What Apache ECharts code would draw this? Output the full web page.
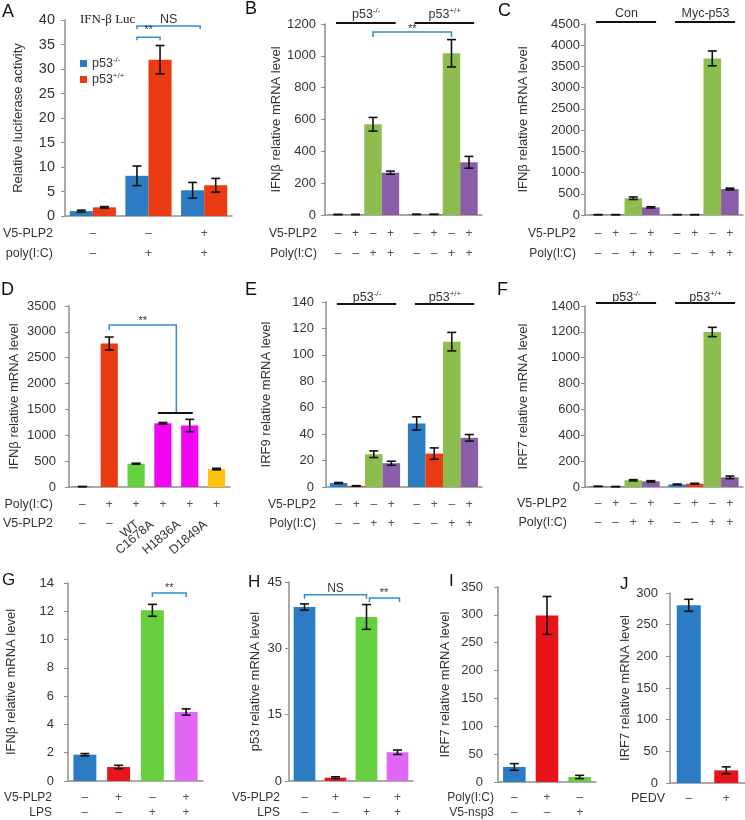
<!DOCTYPE html>
<html>
<head>
<meta charset="utf-8">
<title>PLP2 / p53 figure</title>
<script src="https://cdn.jsdelivr.net/npm/echarts@6/dist/echarts.min.js"></script>
<style>html,body{margin:0;padding:0;background:#fff}#c{width:745px;height:820px}</style>
</head>
<body>
<div id="c"></div>
<script>
// ================= DATA =================
// Panel A
const aCategories = ['ctrl', 'poly', 'plp2+poly'];
const aKnockout = [1.0, 8.2, 5.25];
const aKnockoutErr = [0.2, 2.0, 1.6];
const aWildtype = [1.77, 31.9, 6.27];
const aWildtypeErr = [0.15, 2.9, 1.4];
const aRowV5 = ['–', '–', '+'];
const aRowPoly = ['–', '+', '+'];
const aYTicks = [0, 5, 10, 15, 20, 25, 30, 35, 40];

// shared sign rows for 2 groups x 4 conditions
const quadRowV5 = ['–', '+', '–', '+', '–', '+', '–', '+'];
const quadRowPoly = ['–', '–', '+', '+', '–', '–', '+', '+'];

// Panel B
const bCategories = ['p53-/-', 'p53+/+'];
const bControl = [3, 4];
const bControlErr = [0.5, 0.5];
const bPLP2 = [3, 4];
const bPLP2Err = [0.5, 0.5];
const bPoly = [570, 1016];
const bPolyErr = [43, 86];
const bBoth = [266, 331];
const bBothErr = [10, 37];
const bYTicks = [0, 200, 400, 600, 800, 1000, 1200];

// Panel C
const cCategories = ['Con', 'Myc-p53'];
const cControl = [8, 8];
const cControlErr = [1, 1];
const cPLP2 = [8, 8];
const cPLP2Err = [1, 1];
const cPoly = [395, 3690];
const cPolyErr = [30, 175];
const cBoth = [180, 612];
const cBothErr = [15, 20];
const cYTicks = [0, 500, 1000, 1500, 2000, 2500, 3000, 3500, 4000, 4500];

// Panel D
const dCategories = ['mock', 'poly', 'WT', 'C1678A', 'H1836A', 'D1849A'];
const dValues = [8, 2775, 450, 1233, 1188, 347];
const dErr = [2, 125, 10, 15, 120, 15];
const dRowPoly = ['–', '+', '+', '+', '+', '+'];
const dRowV5 = ['–', '–', 'WT', 'C1678A', 'H1836A', 'D1849A'];
const dYTicks = [0, 500, 1000, 1500, 2000, 2500, 3000, 3500];

// Panel E
const eCategories = ['p53-/-', 'p53+/+'];
const eControl = [3.0, 48.1];
const eControlErr = [0.4, 5];
const ePLP2 = [0.8, 25.3];
const ePLP2Err = [0.2, 4.3];
const ePoly = [24.8, 110];
const ePolyErr = [2.5, 7];
const eBoth = [18, 37.2];
const eBothErr = [1.5, 2.5];
const eYTicks = [0, 20, 40, 60, 80, 100, 120, 140];

// Panel F
const fCategories = ['p53-/-', 'p53+/+'];
const fControl = [5, 20];
const fControlErr = [1, 3];
const fPLP2 = [3, 26];
const fPLP2Err = [1, 3];
const fPoly = [52, 1199];
const fPolyErr = [5, 36];
const fBoth = [44, 75];
const fBothErr = [5, 10];
const fYTicks = [0, 200, 400, 600, 800, 1000, 1200, 1400];

// Panel G
const gCategories = ['mock', 'PLP2', 'LPS', 'PLP2+LPS'];
const gValues = [1.86, 0.99, 12.07, 4.88];
const gErr = [0.08, 0.12, 0.42, 0.22];
const gRowV5 = ['–', '+', '–', '+'];
const gRowLPS = ['–', '–', '+', '+'];
const gYTicks = [0, 2, 4, 6, 8, 10, 12, 14];

// Panel H
const hCategories = ['mock', 'PLP2', 'LPS', 'PLP2+LPS'];
const hValues = [39.35, 0.75, 37.1, 6.5];
const hErr = [0.7, 0.2, 2.8, 0.5];
const hRowV5 = ['–', '+', '–', '+'];
const hRowLPS = ['–', '–', '+', '+'];
const hYTicks = [0, 15, 30, 45];

// Panel I
const iCategories = ['mock', 'poly', 'nsp3'];
const iValues = [27, 299, 9];
const iErr = [6, 34, 3];
const iRowPoly = ['–', '+', '–'];
const iRowNsp3 = ['–', '–', '+'];
const iYTicks = [0, 50, 100, 150, 200, 250, 300, 350];

// Panel J
const jCategories = ['mock', 'PEDV'];
const jValues = [280.6, 20];
const jErr = [9.5, 5.5];
const jRowPEDV = ['–', '+'];
const jYTicks = [0, 50, 100, 150, 200, 250, 300];

// ================= STYLE =================
const FONT = "'Liberation Sans', Arial, Helvetica, sans-serif";
const SERIF = "'Liberation Serif', 'Times New Roman', serif";
const COL = {
  blue: '#2B7CC2', orange: '#EB3B12', olive: '#8CBD4E', purple: '#8A5DA6',
  red: '#E9141A', lime: '#66CF3D', violet: '#E266F6', magenta: '#F205F2',
  gold: '#FFC20F', bracket: '#2D8ED2', axis: '#8E8E8E', text: '#333333', sign: '#555555'
};
const quadColors = [COL.blue, COL.orange, COL.olive, COL.purple];

function quad(c, e, ce, p, pe, q, qe, b, be) {
  return [
    { name: c + '0', data: e, err: ce, color: quadColors[0] },
    { name: c + '1', data: p, err: pe, color: quadColors[1] },
    { name: c + '2', data: q, err: qe, color: quadColors[2] },
    { name: c + '3', data: b, err: be, color: quadColors[3] }
  ];
}

const panels = [
  { id: 'A', rect: [65, 20, 167, 196], ticks: aYTicks, tickFont: 14.5, labelMargin: 10,
    yName: 'Relative luciferase activity', nameGap: 40, gap: 0.17, cats: aCategories,
    series: [
      { name: 'p53-/-', data: aKnockout, err: aKnockoutErr, color: COL.blue },
      { name: 'p53+/+', data: aWildtype, err: aWildtypeErr, color: COL.orange }
    ],
    rows: [['V5-PLP2', aRowV5], ['poly(I:C)', aRowPoly]], rowDy: [18, 38], rowGap: 12, rowFont: 12.5, signsPer: 'cat' },
  { id: 'B', rect: [325, 24, 157, 191], ticks: bYTicks, tickFont: 13, labelMargin: 9,
    yName: 'IFNβ relative mRNA level', nameGap: 41, gap: 0.11, cats: bCategories,
    series: quad('b', bControl, bControlErr, bPLP2, bPLP2Err, bPoly, bPolyErr, bBoth, bBothErr),
    rows: [['V5-PLP2', quadRowV5], ['Poly(I:C)', quadRowPoly]], rowDy: [19, 39], rowGap: 8, rowFont: 12, signsPer: 'bar',
    groups: { line: -1, text: -9 } },
  { id: 'C', rect: [585, 24, 158, 191], ticks: cYTicks, tickFont: 13, labelMargin: 5,
    yName: 'IFNβ relative mRNA level', nameGap: 55, gap: 0.11, cats: cCategories,
    series: quad('c', cControl, cControlErr, cPLP2, cPLP2Err, cPoly, cPolyErr, cBoth, cBothErr),
    rows: [['V5-PLP2', quadRowV5], ['Poly(I:C)', quadRowPoly]], rowDy: [19, 39], rowGap: 9, rowFont: 12, signsPer: 'bar',
    groups: { line: -2, text: -10 } },
  { id: 'D', rect: [69, 306, 161, 181], ticks: dYTicks, tickFont: 13, labelMargin: 13,
    yName: 'IFNβ relative mRNA level', nameGap: 48, gap: 0.36, cats: dCategories,
    series: [{ name: 'd0', data: dValues, err: dErr, colors: [COL.blue, COL.orange, COL.lime, COL.magenta, COL.magenta, COL.gold] }],
    rows: [['Poly(I:C)', dRowPoly], ['V5-PLP2', dRowV5]], rowDy: [18, 37], rowGap: 16, rowFont: 12.5, signsPer: 'bar' },
  { id: 'E', rect: [326, 302, 156, 185], ticks: eYTicks, tickFont: 13, labelMargin: 12,
    yName: 'IRF9 relative mRNA level', nameGap: 53, gap: 0.1, cats: eCategories,
    series: quad('e', eControl, eControlErr, ePLP2, ePLP2Err, ePoly, ePolyErr, eBoth, eBothErr),
    rows: [['V5-PLP2', quadRowV5], ['Poly(I:C)', quadRowPoly]], rowDy: [18, 37], rowGap: 10, rowFont: 12, signsPer: 'bar',
    groups: { line: 2, text: -4 } },
  { id: 'F', rect: [585, 306, 158, 181], ticks: fYTicks, tickFont: 13, labelMargin: 5,
    yName: 'IRF7 relative mRNA level', nameGap: 55, gap: 0.11, cats: fCategories,
    series: quad('f', fControl, fControlErr, fPLP2, fPLP2Err, fPoly, fPolyErr, fBoth, fBothErr),
    rows: [['V5-PLP2', quadRowV5], ['Poly(I:C)', quadRowPoly]], rowDy: [17, 36], rowGap: 18, rowFont: 12.5, signsPer: 'bar',
    groups: { line: -3, text: -8 } },
  { id: 'G', rect: [68, 583, 135, 198], ticks: gYTicks, tickFont: 13, labelMargin: 14,
    yName: 'IFNβ relative mRNA level', nameGap: 50, gap: 0.32, cats: gCategories,
    series: [{ name: 'g0', data: gValues, err: gErr, colors: [COL.blue, COL.red, COL.lime, COL.violet] }],
    rows: [['V5-PLP2', gRowV5], ['LPS', gRowLPS]], rowDy: [17, 32], rowGap: 16, rowFont: 12, signsPer: 'bar' },
  { id: 'H', rect: [289, 582, 124, 199], ticks: hYTicks, tickFont: 13, labelMargin: 7,
    yName: 'p53 relative mRNA level', nameGap: 27, gap: 0.3, cats: hCategories,
    series: [{ name: 'h0', data: hValues, err: hErr, colors: [COL.blue, COL.red, COL.lime, COL.violet] }],
    rows: [['V5-PLP2', hRowV5], ['LPS', hRowLPS]], rowDy: [17, 32], rowGap: 9, rowFont: 12, signsPer: 'bar' },
  { id: 'I', rect: [498, 587, 98, 195], ticks: iYTicks, tickFont: 13, labelMargin: 15,
    yName: 'IRF7 relative mRNA level', nameGap: 46, gap: 0.31, cats: iCategories,
    series: [{ name: 'i0', data: iValues, err: iErr, colors: [COL.blue, COL.red, COL.lime] }],
    rows: [['Poly(I:C)', iRowPoly], ['V5-nsp3', iRowNsp3]], rowDy: [16, 31], rowGap: 4, rowFont: 12, signsPer: 'bar' },
  { id: 'J', rect: [670, 593, 75, 190], ticks: jYTicks, tickFont: 13, labelMargin: 12,
    yName: 'IRF7 relative mRNA level', nameGap: 38, gap: 0.36, cats: jCategories,
    series: [{ name: 'j0', data: jValues, err: jErr, colors: [COL.blue, COL.red] }],
    rows: [['PEDV', jRowPEDV]], rowDy: [16], rowGap: 5, rowFont: 12.5, signsPer: 'bar' }
];

// ================= CHART =================
const chart = echarts.init(document.getElementById('c'), null, { renderer: 'canvas', width: 745, height: 820 });

function errRender(n, k, gap) {
  return function (params, api) {
    const i = api.value(0), v = api.value(1), e = api.value(2);
    const bandW = api.size([1, 0])[0];
    const bw = bandW * (1 - gap) / n;
    const off = (k - (n - 1) / 2) * bw;
    const p1 = api.coord([i, v + e]);
    const p2 = api.coord([i, Math.max(v - e, 0)]);
    const x = p1[0] + off, c = 4.5;
    const st = { stroke: '#111', lineWidth: 1.6 };
    return { type: 'group', children: [
      { type: 'line', shape: { x1: x, y1: p1[1], x2: x, y2: p2[1] }, style: st },
      { type: 'line', shape: { x1: x - c, y1: p1[1], x2: x + c, y2: p1[1] }, style: st },
      { type: 'line', shape: { x1: x - c, y1: p2[1], x2: x + c, y2: p2[1] }, style: st }
    ] };
  };
}

const grids = [], xAxes = [], yAxes = [], series = [];
panels.forEach((p, gi) => {
  p.gi = gi;
  grids.push({ left: p.rect[0], top: p.rect[1], width: p.rect[2], height: p.rect[3], containLabel: false });
  xAxes.push({ type: 'category', gridIndex: gi, data: p.cats,
    axisLine: { lineStyle: { color: COL.axis, width: 1.5 } }, axisTick: { show: false }, axisLabel: { show: false } });
  yAxes.push({ type: 'value', gridIndex: gi, min: p.ticks[0], max: p.ticks[p.ticks.length - 1], interval: p.ticks[1] - p.ticks[0],
    splitLine: { show: false },
    axisLine: { show: true, lineStyle: { color: COL.axis, width: 1.5 } },
    axisTick: { show: true, length: 4, lineStyle: { color: COL.axis, width: 1 } },
    axisLabel: { fontSize: p.tickFont, color: COL.text, margin: p.labelMargin, fontFamily: FONT, formatter: v => String(v) },
    name: p.yName, nameLocation: 'middle', nameGap: p.nameGap, nameRotate: 90,
    nameTextStyle: { fontSize: 13, color: COL.text, fontFamily: FONT } });
  const n = p.series.length;
  p.series.forEach((s, k) => {
    series.push({ type: 'bar', name: s.name, xAxisIndex: gi, yAxisIndex: gi,
      data: s.colors ? s.data.map((v, i) => ({ value: v, itemStyle: { color: s.colors[i] } })) : s.data,
      itemStyle: { color: s.color || COL.blue }, barGap: '0%', barCategoryGap: (p.gap * 100) + '%',
      silent: true, animation: false });
    series.push({ type: 'custom', name: 'err-' + s.name, xAxisIndex: gi, yAxisIndex: gi,
      data: s.data.map((v, i) => [i, v, s.err[i]]), encode: { x: 0, y: 1 },
      renderItem: errRender(n, k, p.gap), z: 5, silent: true, animation: false });
  });
});

chart.setOption({
  backgroundColor: '#ffffff',
  animation: false,
  textStyle: { fontFamily: FONT },
  grid: grids, xAxis: xAxes, yAxis: yAxes, series: series,
  legend: { show: true, data: ['p53-/-', 'p53+/+'], orient: 'vertical', left: 75, top: 51,
    itemWidth: 7, itemHeight: 7, itemGap: 2, icon: 'rect', selectedMode: false,
    formatter: nm => '{b|p53}{s|' + nm.slice(3) + '}',
    textStyle: { rich: {
      b: { fontSize: 12.5, fontFamily: FONT, color: COL.text, lineHeight: 15 },
      s: { fontSize: 8, fontFamily: FONT, color: COL.text, verticalAlign: 'top', lineHeight: 9 }
    } } }
});

// ================= ANNOTATIONS (positions derived from the axes) =================
const G = [];
function txt(x, y, text, o) {
  o = o || {};
  const st = { text: text, font: (o.size || 12) + 'px ' + (o.family || FONT), fill: o.color || COL.text,
    align: o.align || 'center', verticalAlign: o.va || 'middle', textAlign: o.align || 'center', textVerticalAlign: o.va || 'middle' };
  if (o.rich) st.rich = o.rich;
  G.push({ type: 'text', x: x, y: y, rotation: o.rot || 0, silent: true, z: 100, style: st });
}
function seg(x1, y1, x2, y2, color, w) {
  G.push({ type: 'line', silent: true, z: 100, shape: { x1: x1, y1: y1, x2: x2, y2: y2 }, style: { stroke: color, lineWidth: w || 1.5 } });
}
function bracket(x1, x2, y, d1, d2, color) {
  G.push({ type: 'polyline', silent: true, z: 100, shape: { points: [[x1, y + d1], [x1, y], [x2, y], [x2, y + d2]] },
    style: { stroke: color || COL.bracket, lineWidth: 1.5, fill: null } });
}
const supRich = (size) => ({
  b: { fontSize: size, fontFamily: FONT, fill: COL.text, color: COL.text, lineHeight: size + 3 },
  s: { fontSize: 8, fontFamily: FONT, fill: COL.text, color: COL.text, verticalAlign: 'top', lineHeight: 9 }
});

const P = {};
panels.forEach(p => {
  const gi = p.gi, n = p.series.length, nc = p.cats.length;
  const bandW = p.rect[2] / nc;
  const bw = bandW * (1 - p.gap) / n;
  const cx = i => chart.convertToPixel({ gridIndex: gi }, [i, 0])[0];
  const vy = v => chart.convertToPixel({ gridIndex: gi }, [0, v])[1];
  const bx = (i, k) => cx(i) + (k - (n - 1) / 2) * bw;
  P[p.id] = { cx, vy, bx, bandW, p };
  const bottom = p.rect[1] + p.rect[3];
  const xs = [];
  if (p.signsPer === 'cat') { for (let i = 0; i < nc; i++) xs.push(cx(i)); }
  else { for (let i = 0; i < nc; i++) for (let k = 0; k < n; k++) xs.push(bx(i, k)); }
  p.rows.forEach((row, r) => {
    const y = bottom + p.rowDy[r];
    txt(p.rect[0] - p.rowGap, y, row[0], { align: 'right', size: p.rowFont });
    row[1].forEach((s, j) => {
      if (s.length > 1) {
        txt(xs[j] + (s === 'WT' ? -3 : -15), y - 6, s, { align: 'right', va: 'top', size: 12.5, rot: 40 * Math.PI / 180 });
      } else {
        txt(xs[j], y, s, { size: 12, color: COL.sign });
      }
    });
  });
  if (p.groups) {
    for (let i = 0; i < nc; i++) {
      const c = cx(i);
      seg(c - 0.36 * bandW, p.rect[1] + p.groups.line, c + 0.40 * bandW, p.rect[1] + p.groups.line, '#111', 1.8);
      const nm = p.cats[i];
      const m = nm.match(/^p53(.*)$/);
      const label = m ? '{b|p53}{s|' + m[1] + '}' : '{b|' + nm + '}';
      txt(c + 2, p.rect[1] + p.groups.text, label, { rich: supRich(12.5) });
    }
  }
});

// Panel A annotations
(function () {
  const a = P.A;
  txt(80, 20, 'IFN-β Luc', { align: 'left', size: 13, family: SERIF, color: '#222' });
  const yNS = a.vy(38.8);
  bracket(a.bx(1, 0), a.cx(2) - 4, yNS, 3, 3);
  txt((a.bx(1, 0) + a.cx(2) - 4) / 2, yNS - 6, 'NS', { size: 12.5 });
  const ySS = a.vy(36.5);
  bracket(a.bx(1, 0), a.bx(1, 1), ySS, 3, 3);
  txt((a.bx(1, 0) + a.bx(1, 1)) / 2, ySS - 2, '**', { size: 11, va: 'bottom' });
})();
// Panel B
(function () {
  const b = P.B;
  const y = b.vy(1150);
  bracket(b.bx(0, 2), b.bx(1, 2), y, 5, 5);
  txt((b.bx(0, 2) + b.bx(1, 2)) / 2, y + 3, '**', { size: 11, va: 'bottom' });
})();
// Panel D
(function () {
  const d = P.D;
  const y1 = d.vy(3133), y2 = d.vy(1431);
  const xm = (d.cx(3) + d.cx(4)) / 2;
  G.push({ type: 'polyline', silent: true, z: 100,
    shape: { points: [[d.cx(1), y1 + 5], [d.cx(1), y1], [xm, y1], [xm, y2]] },
    style: { stroke: COL.bracket, lineWidth: 1.5, fill: null } });
  seg(d.cx(3) - 5, y2, d.cx(4) + 3, y2, '#111', 1.8);
  txt((d.cx(1) + xm) / 2, y1 + 1, '**', { size: 11, va: 'bottom' });
})();
// Panel G
(function () {
  const g = P.G;
  const y = g.vy(13.3);
  bracket(g.cx(2), g.cx(3), y, 4, 4);
  txt((g.cx(2) + g.cx(3)) / 2, y + 1, '**', { size: 11, va: 'bottom' });
})();
// Panel H
(function () {
  const h = P.H;
  const y1 = h.vy(42.1);
  bracket(h.cx(0), h.cx(2), y1, 4, 4);
  txt((h.cx(0) + h.cx(2)) / 2, y1 - 6, 'NS', { size: 12 });
  const y2 = h.vy(41.4);
  bracket(h.cx(2) + 3, h.cx(3) + 2, y2, 4, 4);
  txt((h.cx(2) + h.cx(3)) / 2 + 2, y2 + 1, '**', { size: 11, va: 'bottom' });
})();

// panel letters
[['A', 2, 12, 18], ['B', 245, 9, 18], ['C', 498, 11, 18],
 ['D', 1, 290, 18], ['E', 245, 290, 18], ['F', 497, 290, 18],
 ['G', 2, 580, 17], ['H', 248, 582, 17], ['I', 449, 581, 17], ['J', 620, 584, 17]]
  .forEach(l => txt(l[1], l[2], l[0], { align: 'left', size: l[3], color: '#111' }));

chart.setOption({ graphic: { elements: G } });
</script>
</body>
</html>
